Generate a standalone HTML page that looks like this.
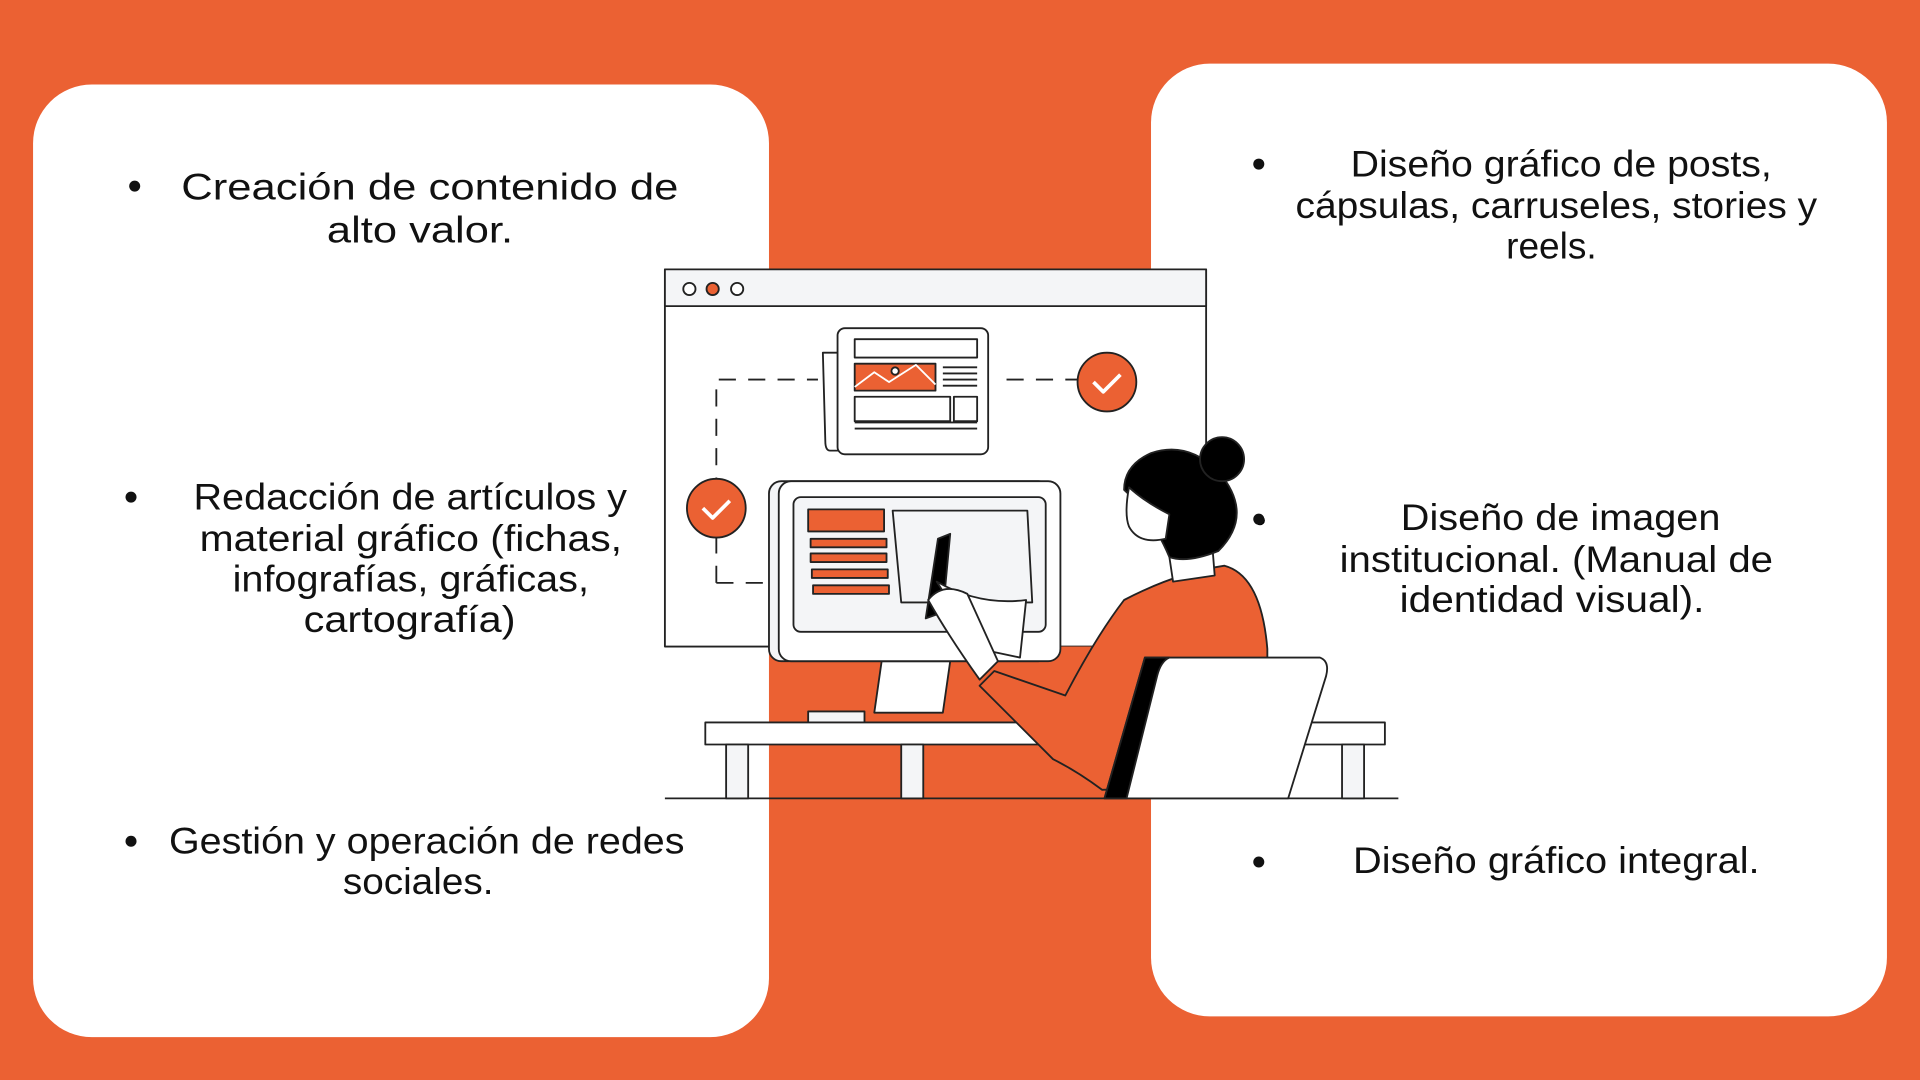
<!DOCTYPE html>
<html><head><meta charset="utf-8"><style>
html,body{margin:0;padding:0;background:#EB6133;}
svg{display:block}
text{font-family:"Liberation Sans",sans-serif;fill:#111;font-size:30px}
</style></head><body>
<svg width="1920" height="1080" viewBox="0 0 1568 882" xmlns="http://www.w3.org/2000/svg">
<rect width="1568" height="882" fill="#EB6133"/>
<rect x="27" y="69" width="601" height="778" rx="48" fill="#fff"/>
<rect x="940" y="52" width="601" height="778" rx="48" fill="#fff"/>

<!-- illustration -->
<g stroke="#222" stroke-width="1.5" stroke-linejoin="round">
<rect x="543" y="220" width="442" height="308" fill="#fff"/>
<rect x="543" y="220" width="442" height="30" fill="#f4f5f7"/>
<circle cx="563" cy="236" r="5" fill="#fff"/>
<circle cx="582" cy="236" r="5" fill="#EB6133"/>
<circle cx="602" cy="236" r="5" fill="#fff"/>
<path d="M585 476 V310 H668 M822 310 H880" fill="none" stroke-dasharray="14 10"/>
<path d="M585 476 H630" fill="none" stroke-dasharray="14 10"/>
<!-- newspaper -->
<path d="M672 288 H690 V368 H678 Q674 368 674 360 Z" fill="#fff"/>
<rect x="684" y="268" width="123" height="103" rx="6" fill="#fff"/>
<rect x="698" y="277" width="100" height="15" fill="#fff"/>
<rect x="698" y="297" width="66" height="22" fill="#EB6133"/>
<path d="M698 316 L714 304 L726 312 L748 298 L764 314" fill="none" stroke="#fff" stroke-width="1.5"/>
<circle cx="731" cy="303" r="3" fill="#fff"/>
<path d="M770 300 H798 M770 305 H798 M770 310 H798 M770 315 H798 M698 345 H798 M698 350 H798" fill="none"/>
<rect x="698" y="324" width="78" height="20" fill="#fff"/>
<rect x="779" y="324" width="19" height="20" fill="#fff"/>
<circle cx="904" cy="312" r="24" fill="#EB6133"/>
<circle cx="585" cy="415" r="24" fill="#EB6133"/>
<path d="M893 312 l8 8 l14 -14" fill="none" stroke="#fff" stroke-width="3"/>
<path d="M574 415 l8 8 l14 -14" fill="none" stroke="#fff" stroke-width="3"/>
<!-- orange area behind desk -->
<rect x="628" y="528" width="312" height="124" fill="#EB6133" stroke="none"/>
<!-- monitor -->
<path d="M720 540 L714 582 H770 L776 540 Z" fill="#fff"/>
<rect x="660" y="581" width="46" height="9" fill="#f4f5f7"/>
<rect x="628" y="393" width="230" height="147" rx="10" fill="#f4f5f7"/>
<rect x="636" y="393" width="230" height="147" rx="10" fill="#fff"/>
<rect x="648" y="406" width="206" height="110" rx="6" fill="#f4f5f7"/>
<rect x="660" y="416" width="62" height="18" fill="#EB6133"/>
<rect x="662" y="440" width="62" height="7" fill="#EB6133"/>
<rect x="662" y="452" width="62" height="7" fill="#EB6133"/>
<rect x="663" y="465" width="62" height="7" fill="#EB6133"/>
<rect x="664" y="478" width="62" height="7" fill="#EB6133"/>
<path d="M729 417 H839 L843 492 H736 Z" fill="#f4f5f7"/>
<!-- desk -->
<rect x="576" y="590" width="555" height="18" fill="#fff"/>
<rect x="593" y="608" width="18" height="44" fill="#f4f5f7"/>
<rect x="736" y="608" width="18" height="44" fill="#f4f5f7"/>
<rect x="1096" y="608" width="18" height="44" fill="#f4f5f7"/>
<!-- person body -->
<path d="M918 490 Q960 468 1000 462 Q1030 470 1035 530 L1035 640 L900 645 Q880 630 860 620 L800 560 L812 548 L870 568 Q895 520 918 490 Z" fill="#EB6133"/>
<path d="M955 455 L958 475 L992 470 L990 445 Z" fill="#fff"/>
<path d="M918 400 Q918 380 940 370 Q970 360 995 385 Q1025 420 995 450 Q970 460 955 455 Q940 420 918 400 Z" fill="#000"/>
<circle cx="998" cy="375" r="18" fill="#000"/>
<path d="M922 398 Q918 420 922 430 Q930 445 952 440 L955 420 Q935 410 922 398 Z" fill="#fff"/>
<circle cx="1029" cy="425" r="4" fill="#000" stroke="none"/>
<!-- tablet/paper -->
<path d="M766 440 L776 436 L770 500 L756 505 Z" fill="#000"/>
<path d="M765 475 Q800 495 838 490 L833 537 L800 530 Z" fill="#fff"/>
<path d="M758 490 Q770 475 790 485 L815 540 L800 555 Q775 520 758 490 Z" fill="#fff"/>
<!-- chair -->
<path d="M935 537 H1078 Q1086 540 1083 552 L1052 652 H902 Z" fill="#fff"/>
<path d="M935 537 H955 Q948 540 945 552 L920 652 H902 Z" fill="#000"/>
<line x1="543" y1="652" x2="1142" y2="652"/>
</g>

<!-- text -->
<g>
<circle cx="110" cy="152" r="4.5" fill="#111"/>
<text x="148" y="163" textLength="406" lengthAdjust="spacingAndGlyphs">Creación de contenido de</text>
<text x="267" y="198" textLength="152" lengthAdjust="spacingAndGlyphs">alto valor.</text>

<circle cx="107" cy="406" r="4.5" fill="#111"/>
<text x="158" y="416" textLength="354" lengthAdjust="spacingAndGlyphs">Redacción de artículos y</text>
<text x="163" y="450" textLength="345" lengthAdjust="spacingAndGlyphs">material gráfico (fichas,</text>
<text x="190" y="483" textLength="291" lengthAdjust="spacingAndGlyphs">infografías, gráficas,</text>
<text x="248" y="516" textLength="173" lengthAdjust="spacingAndGlyphs">cartografía)</text>

<circle cx="107" cy="687" r="4.5" fill="#111"/>
<text x="138" y="697" textLength="421" lengthAdjust="spacingAndGlyphs">Gestión y operación de redes</text>
<text x="280" y="730" textLength="123" lengthAdjust="spacingAndGlyphs">sociales.</text>

<circle cx="1028" cy="134" r="4.5" fill="#111"/>
<text x="1103" y="144" textLength="344" lengthAdjust="spacingAndGlyphs">Diseño gráfico de posts,</text>
<text x="1058" y="178" textLength="426" lengthAdjust="spacingAndGlyphs">cápsulas, carruseles, stories y</text>
<text x="1230" y="211" textLength="74" lengthAdjust="spacingAndGlyphs">reels.</text>

<circle cx="1028" cy="424" r="4.5" fill="#111"/>
<text x="1144" y="433" textLength="261" lengthAdjust="spacingAndGlyphs">Diseño de imagen</text>
<text x="1094" y="467" textLength="354" lengthAdjust="spacingAndGlyphs">institucional. (Manual de</text>
<text x="1143" y="500" textLength="249" lengthAdjust="spacingAndGlyphs">identidad visual).</text>

<circle cx="1028" cy="704" r="4.5" fill="#111"/>
<text x="1105" y="713" textLength="332" lengthAdjust="spacingAndGlyphs">Diseño gráfico integral.</text>
</g>
</svg>
</body></html>
